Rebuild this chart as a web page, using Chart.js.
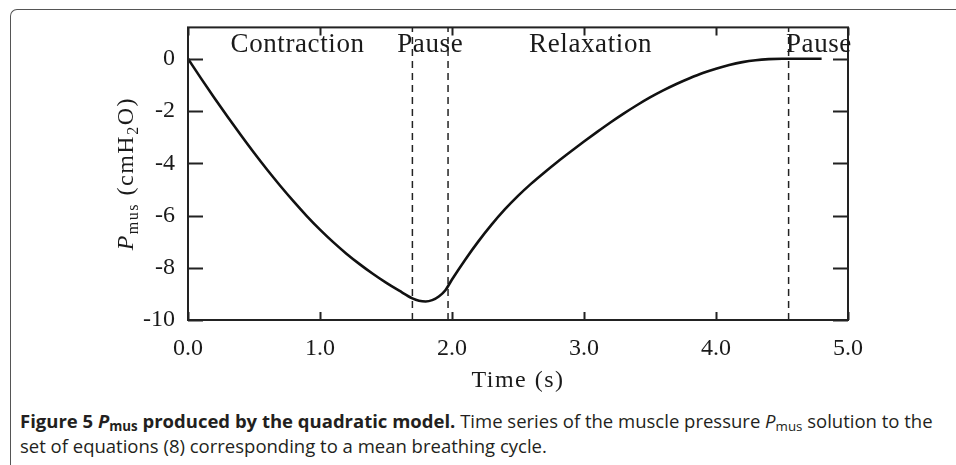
<!DOCTYPE html>
<html>
<head>
<meta charset="utf-8">
<script src="https://cdn.jsdelivr.net/npm/chart.js@4.4.0/dist/chart.umd.min.js"></script>
<style>
  html, body { margin: 0; padding: 0; background: #fff; }
  #frame {
    position: absolute; left: 10px; top: 9px; width: 1000px; height: 500px;
    border-left: 1.5px solid #555; border-top: 1.5px solid #555;
    border-top-left-radius: 7px;
  }
  #plot { position: absolute; left: 0; top: 0; }
  #caption {
    position: absolute; left: 20px; top: 408px;
    font-family: "Open Sans", sans-serif; font-size: 18.5px; line-height: 25px;
    color: #231f20; white-space: nowrap;
  }
  .sub { font-size: 0.72em; vertical-align: -0.25em; line-height: 0; font-style: normal; }
</style>
</head>
<body>
<div id="frame"></div>
<canvas id="plot" width="956" height="400"></canvas>
<div id="caption"><b>Figure 5 <i>P</i><span class="sub">mus</span> produced by the quadratic model.</b> Time series of the muscle pressure <i>P</i><span class="sub">mus</span> solution to the<br>set of equations (8) corresponding to a mean breathing cycle.</div>

<script>
// values
const time = [0, 0.1, 0.2, 0.3, 0.4, 0.5, 0.6, 0.7, 0.8, 0.9, 1.0, 1.1, 1.2, 1.3, 1.4, 1.5, 1.6, 1.7,
  1.75, 1.8, 1.85, 1.9, 1.95, 2.0, 2.1, 2.2, 2.3, 2.4, 2.5, 2.6, 2.7, 2.8, 2.9, 3.0, 3.1, 3.2, 3.3,
  3.4, 3.5, 3.6, 3.7, 3.8, 3.9, 4.0, 4.1, 4.2, 4.3, 4.4, 4.5, 4.6, 4.7, 4.8];
const pressure = [0, -0.76, -1.5, -2.22, -2.92, -3.6, -4.25, -4.87, -5.46, -6.02, -6.54, -7.02, -7.46, -7.86, -8.23, -8.57, -8.88, -9.17,
  -9.26, -9.29, -9.24, -9.1, -8.86, -8.45, -7.69, -6.99, -6.35, -5.77, -5.25, -4.78, -4.35, -3.94, -3.55, -3.17, -2.8, -2.44, -2.1,
  -1.78, -1.48, -1.21, -0.965, -0.745, -0.545, -0.38, -0.24, -0.13, -0.055, -0.015, 0, 0, 0, 0];

const phaseBounds = [1.7, 1.97, 4.55];
const phaseNames = ['Contraction', 'Pause', 'Relaxation', 'Pause'];
const phaseLabelTimes = [0.83, 1.835, 3.05, 4.78];

const xTicks = [0, 1, 2, 3, 4, 5];
const yTicks = [0, -2, -4, -6, -8, -10];
const yMin = -10, yMax = 1.2;

const serif = '"Liberation Serif", "Times New Roman", serif';
const ink = '#1a1a1a';

const curve = time.map((t, i) => ({ x: t, y: pressure[i] }));

const boundarySets = phaseBounds.map(b => ({
  data: [{ x: b, y: yMin }, { x: b, y: yMax }],
  borderColor: '#222',
  borderWidth: 1.5,
  borderDash: [7, 5],
  pointRadius: 0,
  tension: 0
}));

// frame, inward tick marks, phase labels and axis titles
const decorations = {
  id: 'decorations',
  afterDatasetsDraw(chart) {
    const ctx = chart.ctx;
    const a = chart.chartArea;
    const xs = chart.scales.x, ys = chart.scales.y;
    ctx.save();
    ctx.strokeStyle = '#222';
    ctx.lineWidth = 2;
    ctx.strokeRect(a.left, a.top, a.right - a.left, a.bottom - a.top);

    ctx.beginPath();
    xTicks.forEach(v => {
      const px = Math.round(xs.getPixelForValue(v)) + 0.5;
      ctx.moveTo(px, a.bottom); ctx.lineTo(px, a.bottom - 8);
      ctx.moveTo(px, a.top); ctx.lineTo(px, a.top + 8);
    });
    yTicks.forEach(v => {
      const py = Math.round(ys.getPixelForValue(v)) + 0.5;
      ctx.moveTo(a.left, py); ctx.lineTo(a.left + 15, py);
      ctx.moveTo(a.right, py); ctx.lineTo(a.right - 15, py);
    });
    ctx.stroke();

    ctx.fillStyle = ink;
    ctx.font = '27px ' + serif;
    ctx.letterSpacing = '0.6px';
    ctx.textAlign = 'center';
    ctx.textBaseline = 'alphabetic';
    phaseNames.forEach((name, i) => {
      ctx.fillText(name, xs.getPixelForValue(phaseLabelTimes[i]), a.top + 25);
    });

    ctx.font = '24px ' + serif;
    ctx.letterSpacing = '1.5px';
    ctx.fillText('Time (s)', (a.left + a.right) / 2, a.bottom + 67);

    // y title with subscripts, rotated
    const parts = [
      { t: 'P', f: 'italic 24px ' + serif, dy: 0 },
      { t: 'mus', f: '16px ' + serif, dy: 5 },
      { t: ' (cmH', f: '24px ' + serif, dy: 0 },
      { t: '2', f: '16px ' + serif, dy: 5 },
      { t: 'O)', f: '24px ' + serif, dy: 0 }
    ];
    ctx.textAlign = 'left';
    let total = 0;
    parts.forEach(p => { ctx.font = p.f; total += ctx.measureText(p.t).width; });
    ctx.translate(133, (a.top + a.bottom) / 2);
    ctx.rotate(-Math.PI / 2);
    let cx = -total / 2;
    parts.forEach(p => {
      ctx.font = p.f;
      ctx.fillText(p.t, cx, p.dy);
      cx += ctx.measureText(p.t).width;
    });
    ctx.restore();
  }
};

new Chart(document.getElementById('plot').getContext('2d'), {
  type: 'line',
  data: {
    datasets: [
      {
        data: curve,
        borderColor: '#111',
        borderWidth: 2.6,
        pointRadius: 0,
        cubicInterpolationMode: 'monotone'
      },
      ...boundarySets
    ]
  },
  options: {
    responsive: false,
    animation: false,
    layout: { padding: { left: 0, top: 27, right: 108, bottom: 0 } },
    plugins: { legend: { display: false }, tooltip: { enabled: false } },
    scales: {
      x: {
        type: 'linear',
        min: 0,
        max: 5,
        grid: { display: false, drawTicks: false },
        border: { display: false },
        afterFit: s => { s.height = 80; },
        afterBuildTicks: s => { s.ticks = xTicks.map(v => ({ value: v })); },
        ticks: {
          padding: 14,
          color: ink,
          font: { family: serif, size: 24 },
          callback: v => v.toFixed(1)
        }
      },
      y: {
        type: 'linear',
        min: yMin,
        max: yMax,
        grid: { display: false, drawTicks: false },
        border: { display: false },
        afterFit: s => { s.width = 188; },
        afterBuildTicks: s => { s.ticks = yTicks.map(v => ({ value: v })); },
        ticks: {
          padding: 13,
          color: ink,
          font: { family: serif, size: 24 },
          callback: v => String(v)
        }
      }
    }
  },
  plugins: [decorations]
});
</script>
</body>
</html>
